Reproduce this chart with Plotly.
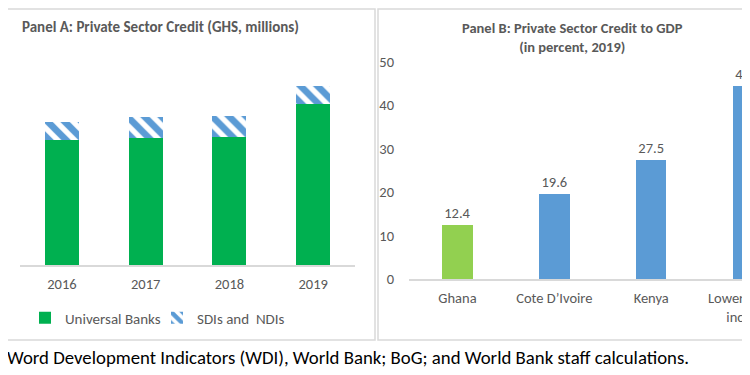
import plotly.graph_objects as go

# ---- data ----
years = ["2016", "2017", "2018", "2019"]
universal_banks = [31000, 31400, 31700, 39900]
sdis_ndis = [4400, 5200, 5200, 4400]
left_ticks = [10000, 20000, 30000, 40000, 50000]

countries = ["Ghana", "Cote D’Ivoire", "Kenya", "Lower middle<br>income"]
credit_gdp = [12.4, 19.6, 27.5, 44.5]
right_ticks = [0, 10, 20, 30, 40, 50]

W, H = 750, 375
OFF = 8  # page body margin
FONT = "Carlito, Lato, sans-serif"
GRAY = "#595959"
GREEN = "#00b050"
LGREEN = "#92d050"
BLUE = "#5b9bd5"
BORDER = "#d9d9d9"


def px(x):
    return (x - OFF) / W


def py(y):
    return 1 - (y - OFF) / H


fig = go.Figure()

fig.add_trace(go.Bar(
    x=years, y=universal_banks, name="Universal Banks",
    marker=dict(color=GREEN, line=dict(width=0)),
    xaxis="x", yaxis="y",
))
fig.add_trace(go.Bar(
    x=years, y=sdis_ndis, name="SDIs and  NDIs",
    marker=dict(color="white", line=dict(width=0),
                pattern=dict(shape="\\", fgcolor=BLUE, bgcolor="white",
                             fgopacity=1, size=12, solidity=0.55)),
    xaxis="x", yaxis="y",
))
fig.add_trace(go.Bar(
    x=countries, y=credit_gdp, showlegend=False,
    marker=dict(color=[LGREEN, BLUE, BLUE, BLUE], line=dict(width=0)),
    text=[f"{v:.1f}" for v in credit_gdp], textposition="outside",
    textfont=dict(size=14.5, color=GRAY, family=FONT), cliponaxis=False,
    width=0.315,
    xaxis="x2", yaxis="y2",
))

fig.update_layout(
    width=W, height=H,
    margin=dict(l=0, r=0, t=0, b=0),
    paper_bgcolor="white", plot_bgcolor="white",
    barmode="stack", bargap=0.595,
    font=dict(family=FONT, color=GRAY, size=13),
    showlegend=True,
    legend=dict(orientation="h", x=px(25), y=py(318), xanchor="left",
                yanchor="middle", traceorder="normal", entrywidth=87,
                font=dict(size=15, color=GRAY),
                bgcolor="rgba(0,0,0,0)"),
    xaxis=dict(domain=[px(20), px(355)], anchor="y", showgrid=False,
               showline=True, linecolor=BORDER, linewidth=1.5, ticks="",
               tickfont=dict(size=14.5, color=GRAY), ticklabelstandoff=5,
               automargin=False),
    yaxis=dict(domain=[py(265), py(43)], anchor="x", range=[0, 55000],
               showgrid=False, zeroline=False, showline=False,
               tickvals=left_ticks, tickformat=",d", ticks="",
               tickfont=dict(size=14.5, color=GRAY),
               ticklabelstandoff=14, automargin=False),
    xaxis2=dict(domain=[px(409), px(750)], anchor="y2", range=[-0.5, 3.02],
                showgrid=False, showline=True, linecolor=BORDER,
                linewidth=1.5, ticks="", tickfont=dict(size=14.5, color=GRAY),
                ticklabelstandoff=5, automargin=False),
    yaxis2=dict(domain=[py(279), py(40)], anchor="x2", range=[0, 55],
                showgrid=False, zeroline=False, showline=False,
                tickvals=right_ticks, ticks="",
                tickfont=dict(size=14.5, color=GRAY),
                ticklabelstandoff=14, automargin=False),
)

# panel borders
fig.add_shape(type="rect", xref="paper", yref="paper",
              x0=px(-5), x1=px(375), y0=py(340), y1=py(9),
              line=dict(color=BORDER, width=1.5))
fig.add_shape(type="rect", xref="paper", yref="paper",
              x0=px(378), x1=px(770), y0=py(340), y1=py(9),
              line=dict(color=BORDER, width=1.5))

# titles
fig.add_annotation(text="<b>Panel A: Private Sector Credit (GHS, millions)</b>",
                   xref="paper", yref="paper", x=px(160), y=py(27),
                   xanchor="center", yanchor="middle", showarrow=False,
                   font=dict(size=15, color=GRAY, family=FONT))
fig.add_annotation(text="<b>Panel B: Private Sector Credit to GDP<br>(in percent, 2019)</b>",
                   xref="paper", yref="paper", x=px(572), y=py(38),
                   xanchor="center", yanchor="middle", showarrow=False,
                   font=dict(size=14.5, color=GRAY, family=FONT))

# source line
fig.add_annotation(text="Word Development Indicators (WDI), World Bank; BoG; and World Bank staff calculations.",
                   xref="paper", yref="paper", x=px(5), y=py(357),
                   xanchor="left", yanchor="middle", showarrow=False,
                   font=dict(size=18.8, color="black", family=FONT))

fig.write_html("out.html")
